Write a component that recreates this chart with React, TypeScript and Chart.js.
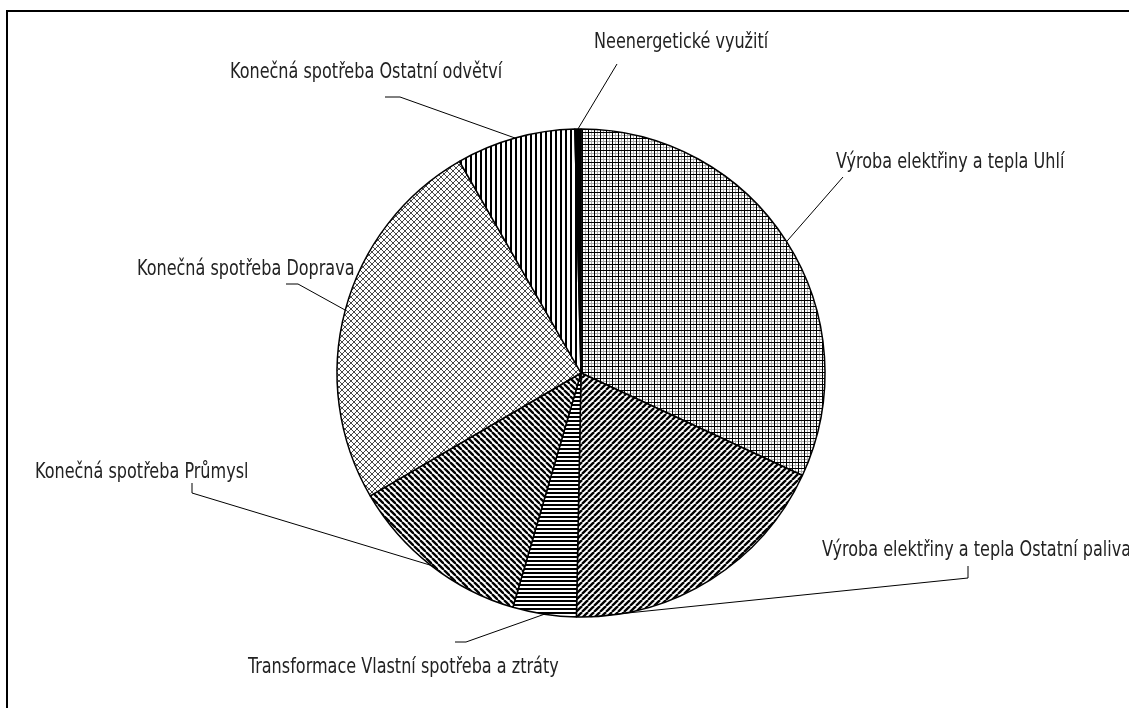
import React, { useEffect, useRef } from "react";
import { Chart, registerables } from "chart.js";

Chart.register(...registerables);

// ---- data ----
const categories = [
  "Výroba elektřiny a tepla Uhlí",
  "Výroba elektřiny a tepla Ostatní paliva",
  "Transformace Vlastní spotřeba a ztráty",
  "Konečná spotřeba Průmysl",
  "Konečná spotřeba Doprava",
  "Konečná spotřeba Ostatní odvětví",
  "Neenergetické využití",
];
const shares = [31.9, 18.4, 4.2, 12.1, 25.1, 7.9, 0.4];

// ---- label layout (text start x, text middle y, leader points near the text, attach fraction along slice) ----
const labelX = [836, 822, 248, 35, 137, 230, 594];
const labelY = [163, 551, 668, 473, 270, 73, 43];
const leaderPaths: number[][][] = [
  [[843, 177]],
  [[968, 566], [968, 578]],
  [[455, 642], [466, 642]],
  [[192, 483], [192, 493]],
  [[286, 284], [298, 284]],
  [[385, 97], [400, 97]],
  [[617, 64]],
];
const attachFrac = [0.5, 0.95, 0.5, 0.5, 0.5, 0.5, 0.5];

const FONT = '21px "Liberation Sans Narrow", "DejaVu Sans Condensed", "Noto Sans", sans-serif';
const TEXT_SX = 0.85;

function makePattern(w: number, h: number, draw: (g: CanvasRenderingContext2D) => void) {
  const c = document.createElement("canvas");
  c.width = w;
  c.height = h;
  const g = c.getContext("2d")!;
  g.fillStyle = "#fff";
  g.fillRect(0, 0, w, h);
  draw(g);
  return g.createPattern(c, "repeat")!;
}

function buildPatterns() {
  const grid = makePattern(6, 6, (g) => {
    g.fillStyle = "#aaa";
    g.fillRect(0, 3, 6, 1);
    g.fillRect(3, 0, 1, 6);
    g.fillStyle = "#000";
    g.fillRect(0, 0, 6, 1);
    g.fillRect(0, 0, 1, 6);
  });
  const up = makePattern(6, 6, (g) => {
    g.strokeStyle = "#000";
    g.lineWidth = 2.3;
    for (const k of [-1, 0, 1]) {
      g.beginPath();
      g.moveTo(k * 6, 6);
      g.lineTo(k * 6 + 6, 0);
      g.stroke();
    }
  });
  const horiz = makePattern(4, 4, (g) => {
    g.fillStyle = "#000";
    g.fillRect(0, 0, 4, 2);
  });
  const down = makePattern(6, 6, (g) => {
    g.strokeStyle = "#000";
    g.lineWidth = 2.3;
    for (const k of [-1, 0, 1]) {
      g.beginPath();
      g.moveTo(k * 6, 0);
      g.lineTo(k * 6 + 6, 6);
      g.stroke();
    }
  });
  const diamond = makePattern(6, 6, (g) => {
    g.strokeStyle = "#333";
    g.lineWidth = 0.9;
    for (const k of [-1, 0, 1]) {
      g.beginPath();
      g.moveTo(k * 6, 0);
      g.lineTo(k * 6 + 6, 6);
      g.stroke();
      g.beginPath();
      g.moveTo(k * 6, 6);
      g.lineTo(k * 6 + 6, 0);
      g.stroke();
    }
  });
  const vert = makePattern(5, 5, (g) => {
    g.fillStyle = "#000";
    g.fillRect(0, 0, 2, 5);
  });
  return [grid, up, horiz, down, diamond, vert, "#000"];
}

const labelPlugin = {
  id: "pieLabels",
  beforeDraw(chart: any) {
    const ctx = chart.ctx;
    ctx.save();
    ctx.fillStyle = "#fff";
    ctx.fillRect(0, 0, chart.width, chart.height);
    ctx.strokeStyle = "#000";
    ctx.lineWidth = 2;
    ctx.beginPath();
    ctx.moveTo(7, chart.height);
    ctx.lineTo(7, 11);
    ctx.lineTo(chart.width, 11);
    ctx.stroke();
    ctx.restore();
  },
  afterDatasetsDraw(chart: any) {
    const ctx = chart.ctx;
    const meta = chart.getDatasetMeta(0);
    ctx.save();
    meta.data.forEach((arc: any, i: number) => {
      const p = arc.getProps(["x", "y", "startAngle", "endAngle", "outerRadius"], true);
      const a = p.startAngle + attachFrac[i] * (p.endAngle - p.startAngle);
      const ax = p.x + p.outerRadius * Math.cos(a);
      const ay = p.y + p.outerRadius * Math.sin(a);
      const pts = leaderPaths[i];
      ctx.strokeStyle = "#000";
      ctx.lineWidth = 1;
      ctx.beginPath();
      ctx.moveTo(ax, ay);
      for (let k = pts.length - 1; k >= 0; k--) ctx.lineTo(pts[k][0], pts[k][1]);
      ctx.stroke();
      ctx.save();
      ctx.translate(labelX[i], labelY[i]);
      ctx.scale(TEXT_SX, 1);
      ctx.fillStyle = "#222";
      ctx.font = FONT;
      ctx.textAlign = "left";
      ctx.textBaseline = "middle";
      ctx.fillText(categories[i], 0, 0);
      ctx.restore();
    });
    ctx.restore();
  },
};

export default function App() {
  const ref = useRef<HTMLCanvasElement | null>(null);
  useEffect(() => {
    document.body.style.margin = "0";
    const canvas = ref.current!;
    const chart = new Chart(canvas, {
      type: "pie",
      data: {
        labels: categories,
        datasets: [
          {
            data: shares,
            backgroundColor: buildPatterns() as any,
            borderColor: "#000",
            borderWidth: 1.5,
          },
        ],
      },
      options: {
        animation: false,
        responsive: false,
        radius: 244,
        layout: { padding: { left: 337, right: 304, top: 129, bottom: 91 } },
        plugins: {
          legend: { display: false },
          tooltip: { enabled: false },
        },
        events: [],
      } as any,
      plugins: [labelPlugin],
    });
    return () => chart.destroy();
  }, []);
  return (
    <div style={{ position: "absolute", left: 0, top: 0, width: 1129, height: 708, overflow: "hidden" }}>
      <canvas ref={ref} width={1129} height={708} style={{ width: 1129, height: 708, display: "block" }} />
    </div>
  );
}
